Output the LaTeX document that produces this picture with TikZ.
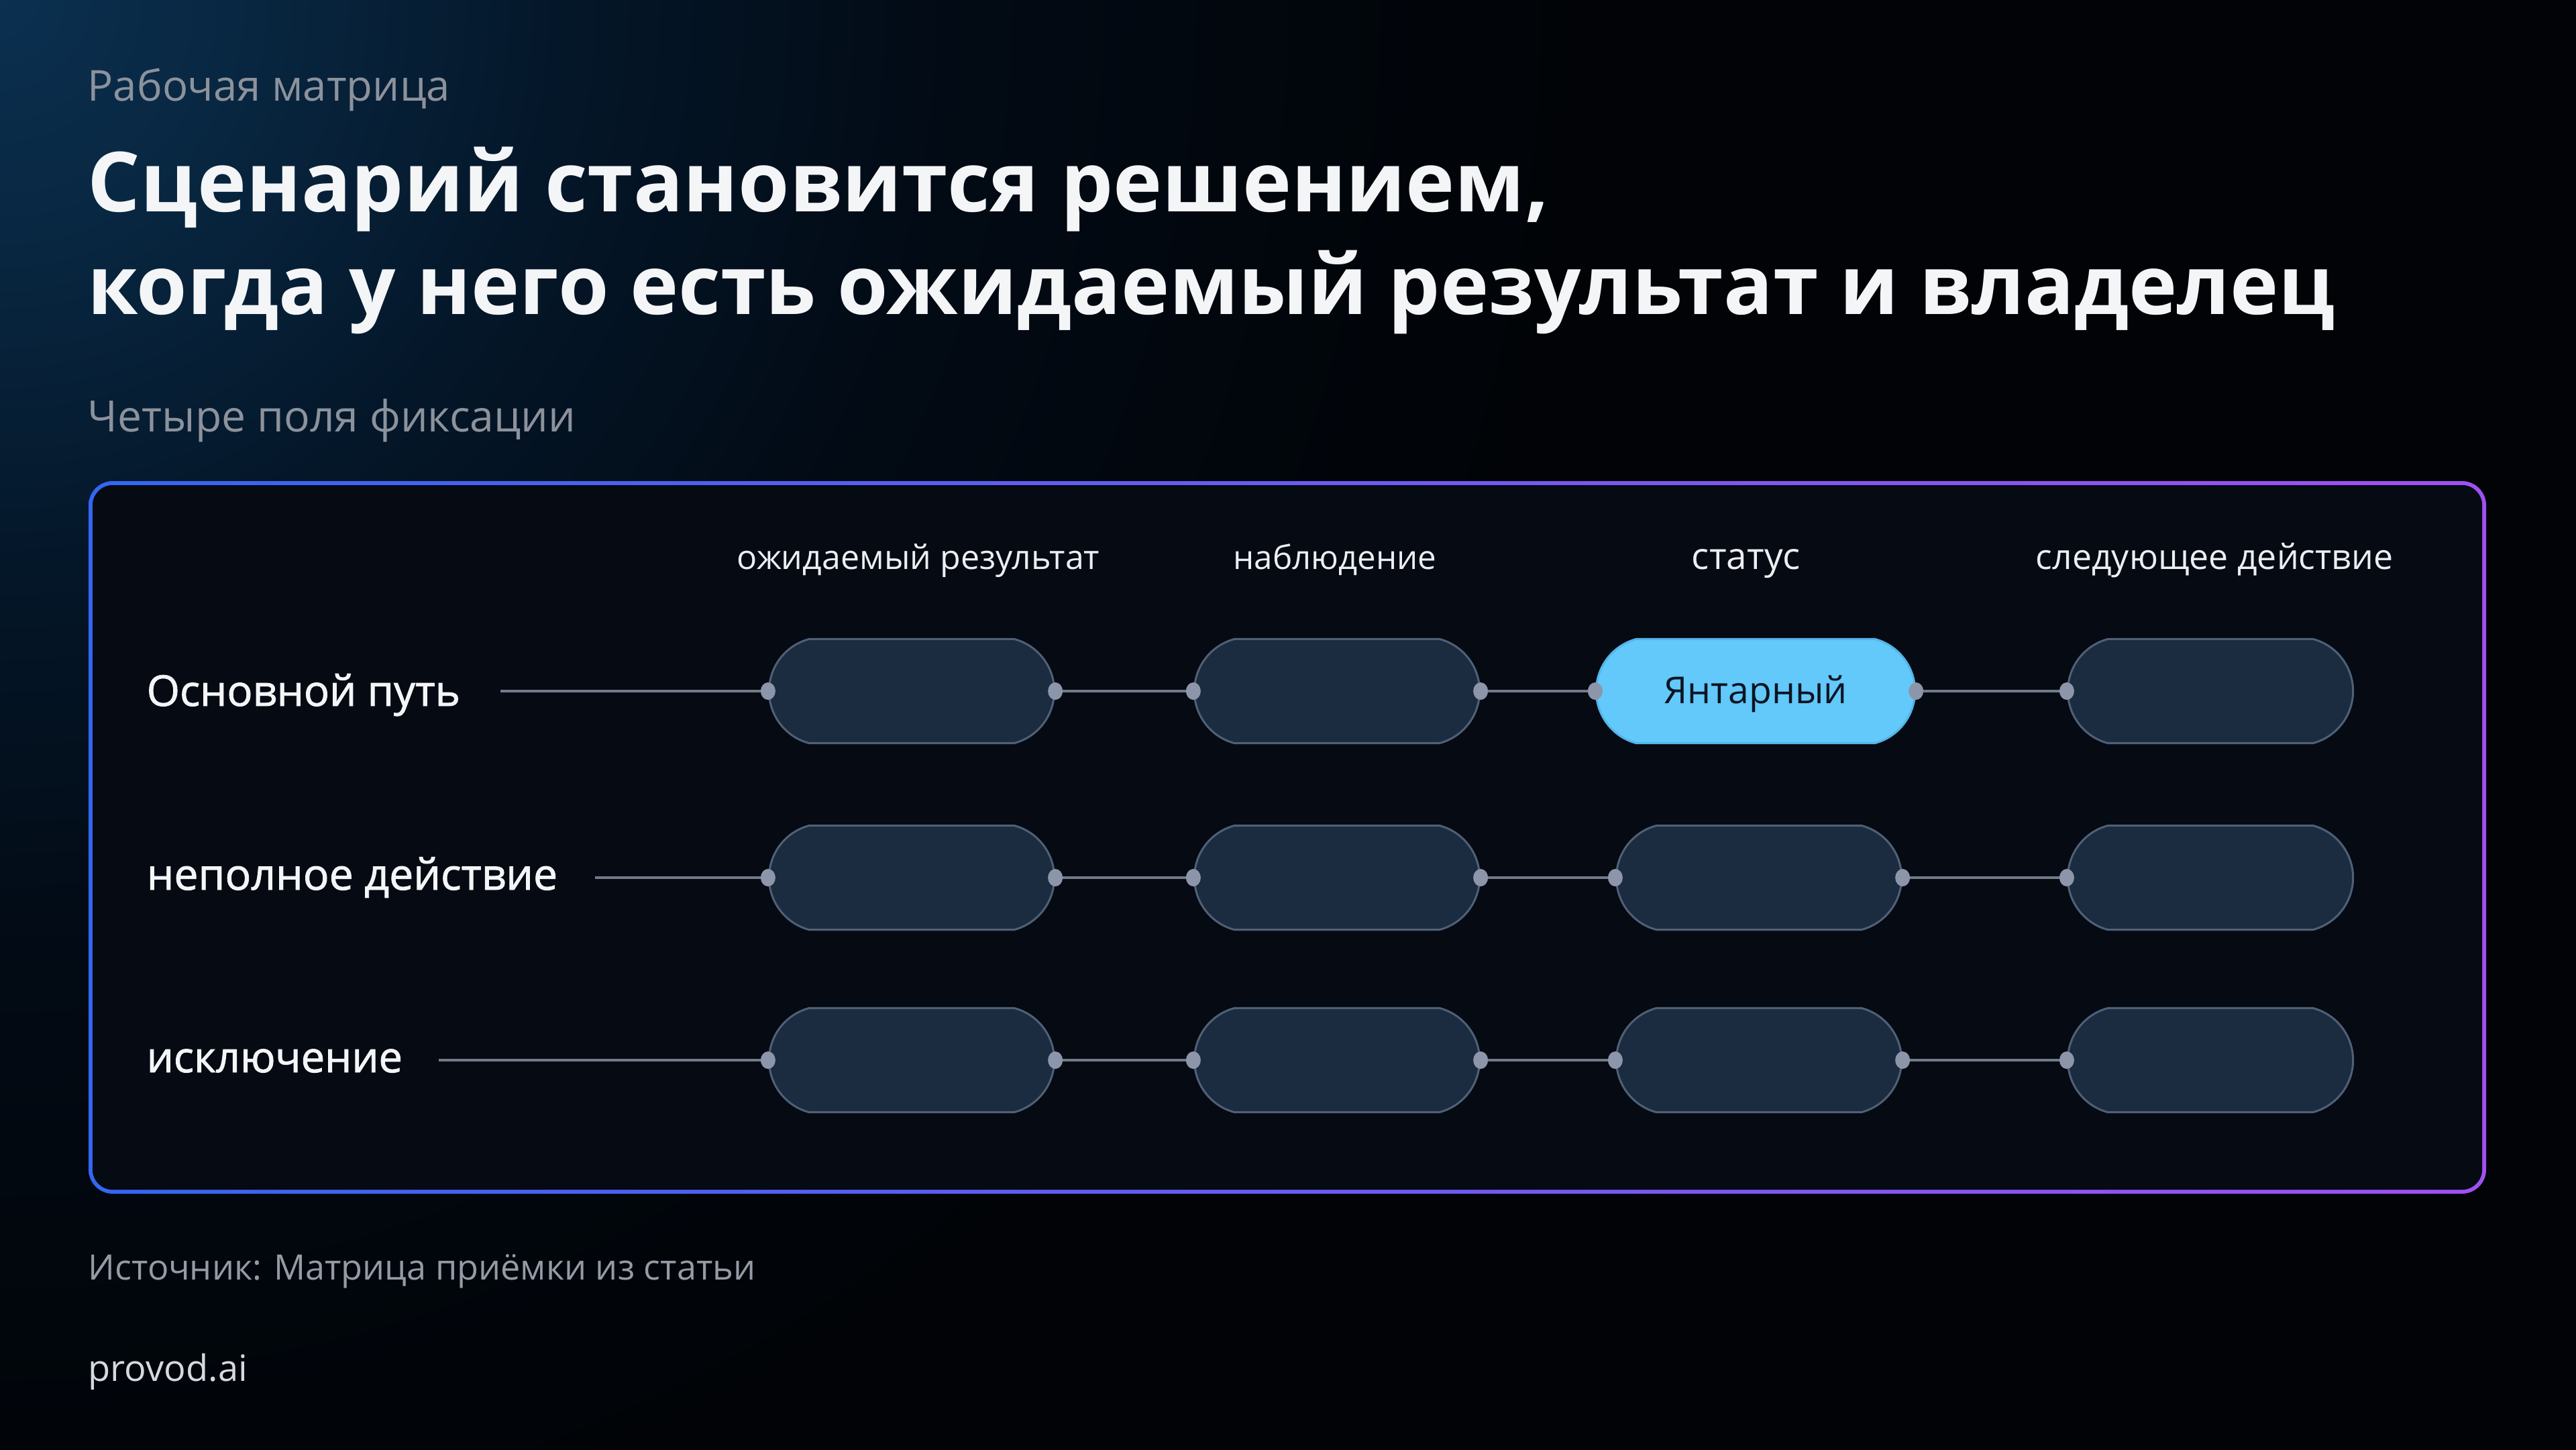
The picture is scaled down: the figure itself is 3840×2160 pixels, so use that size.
\documentclass[tikz,border=0pt]{standalone}
\usepackage{fontspec}
\setmainfont{Open Sans}
\newfontfamily\medfont[FakeBold=1.4]{Open Sans}
\usetikzlibrary{shapes.misc,calc}
\definecolor{bgc}{HTML}{010306}
\definecolor{glowA}{HTML}{0B3050}
\definecolor{glowB}{HTML}{082640}
\definecolor{glowC}{HTML}{041628}
\definecolor{glowD}{HTML}{020A14}
\definecolor{graytxt}{HTML}{8C929C}
\definecolor{whitetxt}{HTML}{F4F5F7}
\definecolor{headtxt}{HTML}{ECEEF2}
\definecolor{boxL}{HTML}{3466F2}
\definecolor{boxR}{HTML}{A050F2}
\definecolor{boxfill}{HTML}{050A13}
\definecolor{cellfill}{HTML}{1B2C40}
\definecolor{cellline}{HTML}{4F6076}
\definecolor{hifill}{HTML}{63C8FA}
\definecolor{hiline}{HTML}{55B4E6}
\definecolor{hitext}{HTML}{0B1422}
\definecolor{connc}{HTML}{737B8A}
\definecolor{dotc}{HTML}{8D95AA}
\definecolor{foottxt}{HTML}{959BA5}
\definecolor{brandtxt}{HTML}{D6D9DE}
\newcommand\fitw[2]{\resizebox{#1}{!}{#2}}
\pgfdeclareradialshading{glow}{\pgfpoint{0bp}{0bp}}{color(0bp)=(glowA); color(4bp)=(glowB); color(9bp)=(glowC); color(15bp)=(glowD); color(25bp)=(bgc); color(50bp)=(bgc)}
\tikzset{
  txt/.style={inner sep=0pt, anchor=base west},
  head/.style={inner sep=0pt, anchor=base, text=headtxt},
  rowlab/.style={inner sep=0pt, anchor=base west, text=whitetxt, font=\medfont},
  cell/.style={rounded rectangle, rounded rectangle arc length=150, minimum width=4.25cm, minimum height=1.55cm, inner sep=0pt, fill=cellfill, draw=cellline, line width=0.03cm},
  hicell/.style={cell, minimum width=4.75cm, fill=hifill, draw=hiline, text=hitext},
  conn/.style={draw=connc, line width=0.04cm},
}
\begin{document}
\begin{tikzpicture}[x=0.01cm,y=-0.01cm]
\useasboundingbox (0,0) rectangle (3840,2160);
\fill[bgc] (-20,-20) rectangle (3860,2180);
\begin{scope}
  \clip (-20,-20) rectangle (3860,2180);
  \shade[shading=glow] (0,0) circle (2400);
\end{scope}

% texts above the box
\node[txt, text=graytxt] (kicker) at (130,150) {\fitw{5.40cm}{Рабочая матрица}};
\node[txt, text=whitetxt, font=\bfseries] (title1) at (130,315) {\fitw{21.77cm}{Сценарий становится решением,}};
\node[txt, text=whitetxt, font=\bfseries] (title2) at (130,468) {\fitw{33.48cm}{когда у него есть ожидаемый результат и владелец}};
\node[txt, text=graytxt] (sub) at (130,643) {\fitw{7.27cm}{Четыре поля фиксации}};

% matrix frame
\shade[left color=boxL, right color=boxR, even odd rule]
  [rounded corners=0.36cm] (132,717) rectangle (3706,1779)
  [rounded corners=0.30cm] (138,723) rectangle (3700,1773);
\fill[boxfill, rounded corners=0.30cm] (138,723) rectangle (3700,1773);

% column headers
\node[head] (h1) at (1369,848) {\fitw{5.40cm}{ожидаемый результат}};
\node[head] (h2) at (1990,848) {\fitw{3.03cm}{наблюдение}};
\node[head] (h3) at (2603,848) {\fitw{1.62cm}{статус}};
\node[head] (h4) at (3301,848) {\fitw{5.32cm}{следующее действие}};

% row labels
\node[rowlab] (lab1) at (218,1052) {\fitw{4.67cm}{Основной путь}};
\node[rowlab] (lab2) at (218,1326) {\fitw{6.12cm}{неполное действие}};
\node[rowlab] (lab3) at (218,1598) {\fitw{3.81cm}{исключение}};

% cells
\foreach \r/\y in {1/1030,2/1308,3/1580} {
  \node[cell] (c\r1) at (1359,\y) {};
  \node[cell] (c\r2) at (1993,\y) {};
  \node[cell] (c\r4) at (3295,\y) {};
}
\node[cell] (c23) at (2622,1308) {};
\node[cell] (c33) at (2622,1580) {};
\node[hicell, text height=0.36cm, text depth=0cm] (c13) at (2617,1030) {\fitw{2.73cm}{Янтарный}};

% connectors
\coordinate (s1) at ($(lab1.east)+(59,0)$);
\coordinate (s2) at ($(lab2.east)+(55,0)$);
\coordinate (s3) at ($(lab3.east)+(53,0)$);
\foreach \r in {1,2,3} {
  \draw[conn] (s\r |- c\r1.west) -- (c\r1.west);
  \draw[conn] (c\r1.east) -- (c\r2.west);
  \draw[conn] (c\r2.east) -- (c\r3.west);
  \draw[conn] (c\r3.east) -- (c\r4.west);
}
% dots
\foreach \r in {1,2,3} {
  \foreach \a in {c\r1.west,c\r1.east,c\r2.west,c\r2.east,c\r3.west,c\r3.east,c\r4.west} {
    \fill[dotc] (\a) ellipse [x radius=0.11cm, y radius=0.13cm];
  }
}

% footer
\node[txt, text=foottxt] (src) at (131,1907) {\fitw{9.94cm}{Источник: Матрица приёмки из статьи}};
\node[txt, text=brandtxt] (brand) at (131,2058) {\fitw{2.37cm}{provod.ai}};
\end{tikzpicture}
\end{document}
